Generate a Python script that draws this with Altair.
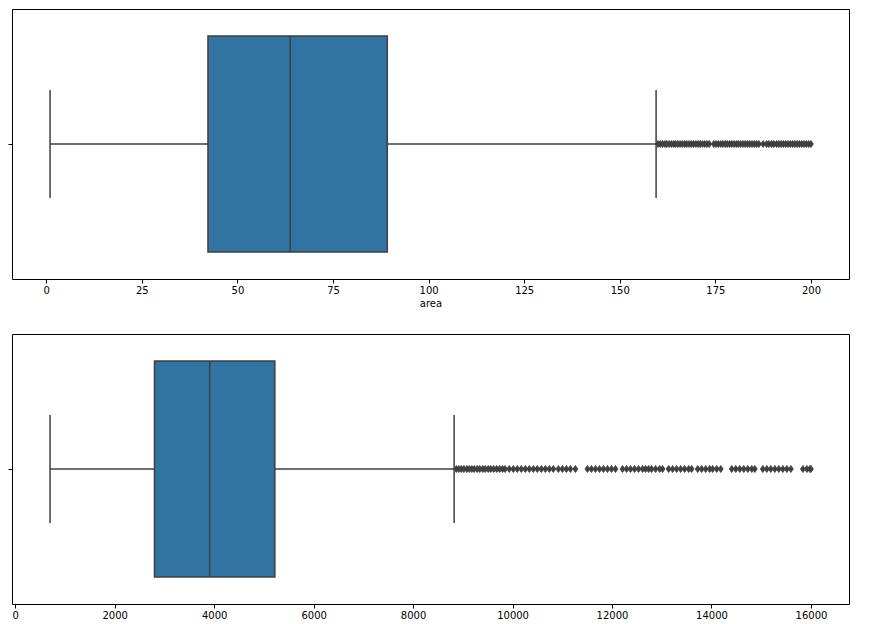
import altair as alt
import pandas as pd

# ---- data ----
area_stats = {"lo": [1.0], "q1": [42.3], "med": [63.8], "q3": [89.2], "hi": [159.5]}
area_outliers = [160.0, 160.6, 161.2, 161.8, 162.3, 162.9, 163.5, 164.1, 164.6, 165.2,
                 165.8, 166.4, 167.0, 167.5, 168.1, 168.7, 169.3, 169.9, 170.5, 171.0,
                 171.6, 172.2, 172.8, 173.4, 174.6, 175.2, 175.8, 176.4, 177.0, 177.6,
                 178.1, 178.7, 179.3, 179.9, 180.5, 181.0, 181.6, 182.2, 182.8, 183.4,
                 184.0, 184.6, 185.2, 185.8, 186.4, 187.5, 188.4, 189.0, 189.7, 190.3,
                 191.0, 191.6, 192.2, 192.8, 193.4, 194.0, 194.6, 195.2, 195.8, 196.4,
                 197.0, 197.6, 198.2, 198.8, 199.4, 200.0]
area_ticks = [0, 25, 50, 75, 100, 125, 150, 175, 200]

price_stats = {"lo": [700.0], "q1": [2800.0], "med": [3910.0], "q3": [5220.0], "hi": [8825.0]}
price_outliers = [8870, 8920, 8970, 9020, 9080, 9130, 9180, 9230, 9290, 9340,
                  9400, 9450, 9510, 9560, 9620, 9680, 9740, 9800, 9850, 9934,
                  10015, 10095, 10176, 10257, 10337, 10418, 10498, 10579, 10660, 10740,
                  10820, 10921, 11002, 11083, 11163, 11264, 11506, 11586, 11667, 11748,
                  11828, 11909, 11990, 12070, 12211, 12292, 12372, 12453, 12533, 12614,
                  12675, 12735, 12795, 12876, 12957, 13017, 13138, 13218, 13299, 13380,
                  13460, 13541, 13601, 13722, 13802, 13883, 13964, 14024, 14105, 14186,
                  14407, 14488, 14568, 14649, 14730, 14810, 14871, 15032, 15113, 15193,
                  15274, 15354, 15435, 15516, 15596, 15838, 15919, 15979, 16000]
price_ticks = [0, 2000, 4000, 6000, 8000, 10000, 12000, 14000, 16000]

BOX = "#3274a1"
GRAY = "#3f3f3f"
FONT = "DejaVu Sans"
W, H = 837, 270
THIN_DIAMOND = "M0,-1L0.7,0L0,1L-0.7,0Z"


def panel(stats, outliers, domain, ticks, title):
    sdf = pd.DataFrame(stats)
    odf = pd.DataFrame({"v": outliers})
    xs = alt.Scale(domain=domain, nice=False, zero=False)
    ys = alt.Scale(domain=[-0.5, 0.5], nice=False, zero=False)
    xaxis = alt.Axis(values=ticks, grid=False, domain=False, tickColor="black",
                     tickSize=4, labelColor="black", labelFont=FONT, labelFontSize=10,
                     labelPadding=2, labelFlush=False, titleFont=FONT, titleFontSize=10,
                     titleFontWeight="normal", titleColor="black", titlePadding=3,
                     title=title, format="d")
    yaxis = alt.Axis(values=[0], labels=False, ticks=True, tickSize=4, tickColor="black",
                     domain=False, grid=False, title=None)
    base = alt.Chart(sdf)
    whisk_lo = base.mark_rule(color=GRAY, strokeWidth=1.5).encode(
        x=alt.X("lo:Q", scale=xs, axis=xaxis), x2="q1:Q",
        y=alt.YDatum(0, scale=ys, axis=yaxis))
    whisk_hi = base.mark_rule(color=GRAY, strokeWidth=1.5).encode(
        x=alt.X("q3:Q", scale=xs), x2="hi:Q", y=alt.YDatum(0, scale=ys))
    cap_lo = base.mark_rule(color=GRAY, strokeWidth=1.5).encode(
        x=alt.X("lo:Q", scale=xs), y=alt.YDatum(-0.2, scale=ys), y2=alt.Y2Datum(0.2))
    cap_hi = base.mark_rule(color=GRAY, strokeWidth=1.5).encode(
        x=alt.X("hi:Q", scale=xs), y=alt.YDatum(-0.2, scale=ys), y2=alt.Y2Datum(0.2))
    box = base.mark_rect(fill=BOX, stroke=GRAY, strokeWidth=1.5).encode(
        x=alt.X("q1:Q", scale=xs), x2="q3:Q",
        y=alt.YDatum(-0.4, scale=ys), y2=alt.Y2Datum(0.4))
    med = base.mark_rule(color=GRAY, strokeWidth=1.5).encode(
        x=alt.X("med:Q", scale=xs), y=alt.YDatum(-0.4, scale=ys), y2=alt.Y2Datum(0.4))
    pts = alt.Chart(odf).mark_point(shape=THIN_DIAMOND, filled=True, fill=GRAY,
                                    stroke=GRAY, strokeWidth=0.8, opacity=1, size=50).encode(
        x=alt.X("v:Q", scale=xs), y=alt.YDatum(0, scale=ys))
    return alt.layer(whisk_lo, whisk_hi, cap_lo, cap_hi, box, med, pts).properties(
        width=W, height=H)


top = panel(area_stats, area_outliers, [-8.95, 209.95], area_ticks, "area")
bottom = panel(price_stats, price_outliers, [-65, 16765], price_ticks, None)

chart = alt.vconcat(top, bottom, spacing=24).properties(
    padding={"left": -1, "top": 0, "right": 5, "bottom": 0}
).configure_view(stroke="black", strokeWidth=1)

chart.save("out.html", embed_options={"renderer": "svg", "actions": False})
